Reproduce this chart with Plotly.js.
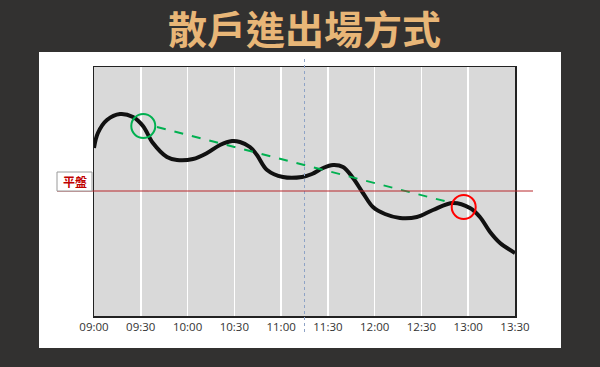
<!DOCTYPE html>
<html><head><meta charset="utf-8">
<script src="https://cdn.plot.ly/plotly-3.0.1.min.js"></script>
<style>html,body{margin:0;padding:0;background:#323130;}#c{width:600px;height:367px;}</style>
</head><body><div id="c"></div>
<script>
// minutes after 09:00
const tickMinutes = [0,30,60,90,120,150,180,210,240,270];
const tickLabels = ["09:00","09:30","10:00","10:30","11:00","11:30","12:00","12:30","13:00","13:30"];
// price relative to previous close (平盤 = 0)
const curveT = [0,2.5,8.3,16.7,25,31.4,37.8,46.8,53.2,63.5,72.5,80.8,88.5,93.6,100,104.5,111,121.2,133.4,139.8,146.9,153.3,159.7,166.1,172.5,178.9,186.6,196.2,207.1,217.4,230.2,241.1,247.5,254,260.4,270];
const curveV = [4.3,5.8,7.1,7.7,7.4,6.5,4.8,3.4,3.1,3.2,3.8,4.6,5.0,4.9,4.4,3.6,2.1,1.4,1.4,1.7,2.3,2.6,2.4,1.3,-0.2,-1.6,-2.3,-2.7,-2.6,-1.9,-1.2,-1.7,-2.6,-4.1,-5.2,-6.2];
const entryPoint = {t:31.6, v:6.5};
const exitPoint = {t:237.1, v:-1.6};
const trendT = [40.4, 229.6];
const trendV = [6.4, -1.2];
const midDayMinute = 135;
const flatLabel = "平盤";
const chartTitle = "散戶進出場方式";

const traces = [
  {x: curveT, y: curveV, mode:'lines', line:{color:'#111', width:4, shape:'spline', smoothing:1}, hoverinfo:'skip'},
  {x: trendT, y: trendV, mode:'lines', line:{color:'#00b050', width:2, dash:'dash'}, hoverinfo:'skip'},
  {x:[entryPoint.t], y:[entryPoint.v], mode:'markers', marker:{symbol:'circle-open', size:24, color:'#00b050', line:{width:2, color:'#00b050'}}},
  {x:[exitPoint.t], y:[exitPoint.v], mode:'markers', marker:{symbol:'circle-open', size:24, color:'#ff0000', line:{width:2, color:'#ff0000'}}}
];

const layout = {
  width:600, height:367,
  margin:{l:94, r:85, t:67, b:51, pad:0},
  paper_bgcolor:'#323130',
  plot_bgcolor:'rgba(0,0,0,0)',
  showlegend:false,
  title:{text:chartTitle, x:0.5, xanchor:'center', xref:'paper', yref:'container', y:1-30/367, yanchor:'middle',
    font:{family:'"Noto Sans CJK TC", "Noto Sans CJK SC", sans-serif', size:39, color:'#e8b677', weight:700}},
  xaxis:{range:[0,270], tickvals:tickMinutes, ticktext:tickLabels, showgrid:true, gridcolor:'#ffffff', gridwidth:1.5,
    zeroline:false, showline:true, mirror:true, linecolor:'#222', linewidth:1.5, ticks:'', ticklen:0,
    tickfont:{family:'"Open Sans", sans-serif', size:11.5, color:'#333'}, fixedrange:true},
  yaxis:{range:[-12.5,12.4], showticklabels:false, showgrid:false, zeroline:false, showline:true, mirror:true,
    linecolor:'#222', linewidth:1.5, ticks:'', fixedrange:true},
  shapes:[
    {type:'rect', xref:'paper', yref:'paper', x0:(39-94)/421, x1:(561-94)/421, y0:(316-348)/249, y1:(316-52)/249,
      fillcolor:'#ffffff', line:{width:0}, layer:'below'},
    {type:'rect', xref:'paper', yref:'paper', x0:0, x1:1, y0:0, y1:1, fillcolor:'#d9d9d9', line:{width:0}, layer:'below'},
    {type:'line', xref:'x', yref:'paper', x0:midDayMinute, x1:midDayMinute, y0:(316-332)/249, y1:(316-58)/249,
      line:{color:'#8ea3c6', width:1, dash:'dot'}},
    {type:'line', xref:'paper', yref:'y', x0:(57-94)/421, x1:(533-94)/421, y0:0, y1:0, line:{color:'#b8282d', width:1}},
    {type:'rect', xref:'paper', yref:'y', x0:(57-94)/421, x1:(92-94)/421, y0:0, y1:1.9, fillcolor:'#ffffff', line:{color:'#9a9a9a', width:1}}
  ],
  annotations:[
    {xref:'paper', yref:'y', x:(74.5-94)/421, y:0.95, text:flatLabel, showarrow:false, xanchor:'center', yanchor:'middle',
      font:{family:'"Noto Sans CJK TC", sans-serif', size:12, color:'#c00000', weight:700}}
  ]
};
Plotly.newPlot('c', traces, layout, {staticPlot:true, displayModeBar:false});
</script></body></html>
